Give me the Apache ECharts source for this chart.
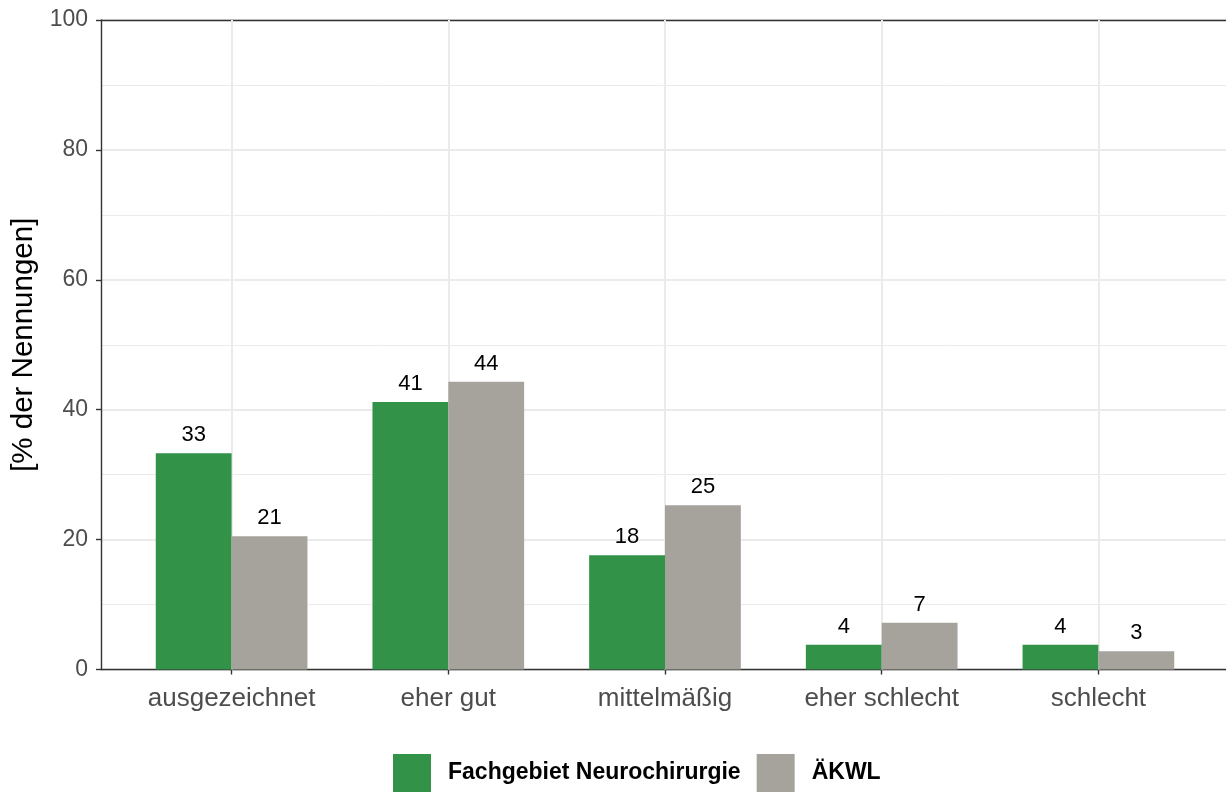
<!DOCTYPE html>
<html><head><meta charset="utf-8">
<script src="https://cdn.jsdelivr.net/npm/echarts@6/dist/echarts.min.js"></script>
<style>html,body{margin:0;padding:0;background:#fff}#c{width:1226px;height:794px}</style>
</head><body><div id="c"></div>
<script>
const categories = ['ausgezeichnet', 'eher gut', 'mittelmäßig', 'eher schlecht', 'schlecht'];
const seriesNames = ['Fachgebiet Neurochirurgie', 'ÄKWL'];
const neuroValues = [33.3, 41.2, 17.6, 3.8, 3.8];
const aekwlValues = [20.5, 44.3, 25.3, 7.2, 2.8];
const yTicks = [0, 20, 40, 60, 80, 100];
const colors = ['#319248', '#A6A39C'];

const FONT = "'Liberation Sans', Arial, sans-serif";
const chart = echarts.init(document.getElementById('c'), null, {renderer: 'canvas'});
const axisColor = '#333333';
const gridColor = '#EBEBEB';

function barSeries(name, data, color) {
  return {
    name: name, type: 'bar', xAxisIndex: 2, yAxisIndex: 1,
    data: data, barWidth: '35%', barGap: '0%', z: 3,
    itemStyle: {color: color},
    label: {show: true, position: 'top', distance: 7, fontSize: 22, color: '#000', fontFamily: FONT,
      formatter: p => Math.round(p.value)}
  };
}

chart.setOption({
  animation: false,
  textStyle: {fontFamily: FONT},
  grid: [
    {left: 101, right: 0, top: 20, bottom: 124.5},
    {left: 123.25, right: 19.25, top: 20, bottom: 124.5}
  ],
  xAxis: [
    {gridIndex: 0, type: 'value', min: 0, max: 1, position: 'bottom',
      axisLine: {show: true, onZero: false, lineStyle: {color: axisColor, width: 1.4}},
      axisTick: {show: false}, axisLabel: {show: false}, splitLine: {show: false}},
    {gridIndex: 0, type: 'value', min: 0, max: 1, position: 'top',
      axisLine: {show: true, onZero: false, lineStyle: {color: axisColor, width: 1.4}},
      axisTick: {show: false}, axisLabel: {show: false}, splitLine: {show: false}},
    {gridIndex: 1, type: 'category', data: categories, boundaryGap: true,
      axisLine: {show: false},
      axisTick: {show: true, alignWithLabel: true, length: 5, lineStyle: {color: axisColor, width: 1.4}},
      axisLabel: {fontSize: 26, color: '#4D4D4D', margin: 16, fontFamily: FONT, interval: 0},
      splitLine: {show: false}}
  ],
  yAxis: [
    {gridIndex: 0, type: 'value', min: 0, max: 100, interval: 20,
      name: '[% der Nennungen]', nameLocation: 'middle', nameGap: 57,
      nameTextStyle: {fontSize: 29.5, color: '#000', fontFamily: FONT},
      axisLine: {show: true, lineStyle: {color: axisColor, width: 1.4}},
      axisTick: {show: true, length: 5, lineStyle: {color: axisColor, width: 1.4}},
      axisLabel: {fontSize: 23, color: '#4D4D4D', margin: 13, fontFamily: FONT,
        customValues: yTicks},
      splitLine: {show: true, lineStyle: {color: gridColor, width: 2}},
      minorTick: {show: false, splitNumber: 2},
      minorSplitLine: {show: true, lineStyle: {color: gridColor, width: 1}}},
    {gridIndex: 1, type: 'value', min: 0, max: 100, interval: 20, show: false,
      splitLine: {show: false}}
  ],
  legend: {
    left: 388, top: 749, itemWidth: 38, itemHeight: 38, itemGap: 16,
    icon: 'rect', data: seriesNames,
    textStyle: {fontSize: 23, fontWeight: 'bold', color: '#000', fontFamily: FONT, padding: [0, 0, 0, 12]}
  },
  series: [
    {name: 'vgrid', type: 'line', xAxisIndex: 2, yAxisIndex: 1, data: [], z: 1, silent: true,
      markLine: {z: 1, silent: true, symbol: 'none', label: {show: false},
        lineStyle: {color: gridColor, width: 2, type: 'solid'},
        data: categories.map(c => ({xAxis: c}))}},
    barSeries(seriesNames[0], neuroValues, colors[0]),
    barSeries(seriesNames[1], aekwlValues, colors[1])
  ]
});
</script></body></html>
